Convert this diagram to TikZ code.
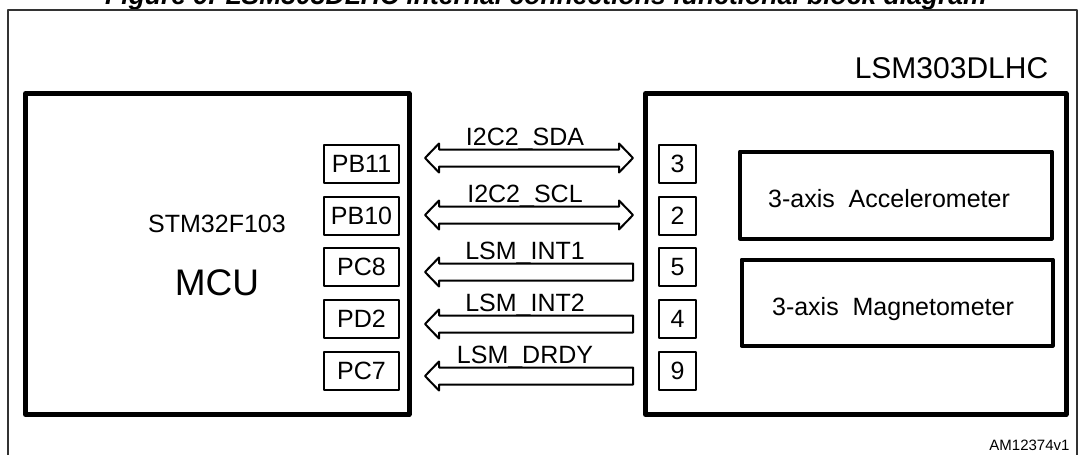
\documentclass[tikz,border=0pt]{standalone}
\usepackage{fontspec}
\setmainfont{Liberation Sans}
\usetikzlibrary{calc}
\newcommand{\pxfont}[1]{\fontsize{#1}{#1}\selectfont}
\tikzset{
  chipbox/.style={line width=5pt},
  unitbox/.style={line width=4pt},
  pinbox/.style={draw, line width=2pt, inner sep=0pt, minimum height=38pt, font=\pxfont{25}},
  lpinbox/.style={pinbox, minimum width=75pt},
  rpinbox/.style={pinbox, minimum width=37pt},
  busarrow/.style={line width=2pt},
  signame/.style={anchor=base, font=\pxfont{25}},
}
\begin{document}
\begin{tikzpicture}[x=1pt,y=-1pt,line join=round,line cap=round]
		\useasboundingbox (0,0) rectangle (1084,455);
		%%%%%%%%%%%%%%% title and frame
		\node[anchor=base, font=\bfseries\itshape\pxfont{26.5}] (title) at (546,5) {Figure 9. LSM303DLHC internal connections functional block diagram};
		\draw[line width=1.5pt, black!80] (8,470) -- (8,10) -- (1077,10) -- (1077,470);
		\node[anchor=base east, font=\pxfont{15}] (amref) at (1073,450) {AM12374v1};
		%%%%%%%%%%%%%%% MCU
		\draw[chipbox] (25.5,93.5) rectangle (409,414.5);
		\node[anchor=base, font=\pxfont{25}] (stm) at (217,232) {STM32F103};
		\node[anchor=base, font=\pxfont{37}] (mcu) at (217,295) {MCU};
		\foreach \name/\txt/\y in {pb11/PB11/163.5, pb10/PB10/215.5, pc8/PC8/267, pd2/PD2/318.5, pc7/PC7/370.5}
			\node[lpinbox] (\name) at (361.5,\y) {\txt};
		%%%%%%%%%%%%%%% LSM303DLHC
		\draw[chipbox] (645.5,93.5) rectangle (1066,414.5);
		\node[anchor=base, font=\pxfont{30}] (lsm) at (951.5,78) {LSM303DLHC};
		\foreach \name/\txt/\y in {p3/3/163.5, p2/2/215.5, p5/5/267, p4/4/318.5, p9/9/370.5}
			\node[rpinbox] (\name) at (677.5,\y) {\txt};
		\draw[unitbox] (740,151.5) rectangle (1051.5,238.5);
		\node[anchor=base, font=\pxfont{25}] (acc) at (889,207) {3-axis\ \ Accelerometer};
		\draw[unitbox] (741.5,259.5) rectangle (1052.5,345.5);
		\node[anchor=base, font=\pxfont{25}] (mag) at (893,315) {3-axis\ \ Magnetometer};
		%%%%%%%%%%%%%%% I2C buses, both ways
		\foreach \l/\r/\sig/\dy in {pb11/p3/I2C2\_SDA/-5.5, pb10/p2/I2C2\_SCL/-0.5}{
			\coordinate (\l-a) at ($(\l.east)+(25,\dy)$);
			\coordinate (\r-a) at ($(\r.west)+(-25,\dy)$);
			\draw[busarrow] (\l-a) -- ++(14,-14.5) -- ++(0,6) -- ($(\r-a)+(-14,-8.5)$) -- ++(0,-6) -- (\r-a)
			-- ++(-14,14.5) -- ++(0,-6) -- ($(\l-a)+(14,8.5)$) -- ++(0,6) -- cycle;
			\node[signame] at ($(\l-a)!0.5!(\r-a)+(-4,-13)$) {\sig};
		}
		%%%%%%%%%%%%%%% interrupt lines, sensor to MCU
		\foreach \l/\r/\sig/\dy in {pc8/p5/LSM\_INT1/5, pd2/p4/LSM\_INT2/5.5, pc7/p9/LSM\_DRDY/5.5}{
			\coordinate (\l-a) at ($(\l.east)+(25,\dy)$);
			\coordinate (\r-a) at ($(\r.west)+(-25,\dy)$);
			\draw[busarrow] (\l-a) -- ++(14,-14.5) -- ++(0,6) -- ($(\r-a)+(0,-8.5)$) -- ++(0,17)
			-- ($(\l-a)+(14,8.5)$) -- ++(0,6) -- cycle;
			\node[signame] at ($(\l-a)!0.5!(\r-a)+(-4,-13)$) {\sig};
		}
\end{tikzpicture}
\end{document}
